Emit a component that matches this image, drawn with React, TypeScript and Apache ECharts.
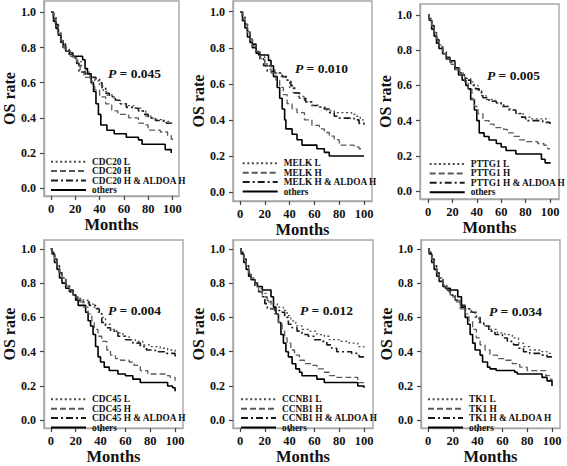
import React, { useEffect, useRef } from "react";
import * as echarts from "echarts";

const FONT = "'Liberation Serif', 'Times New Roman', serif";

const genes = ["CDC20", "MELK", "PTTG1", "CDC45", "CCNB1", "TK1"];
const pValues = ["0.045", "0.010", "0.005", "0.004", "0.012", "0.034"];
const X_TICKS = [0, 20, 40, 60, 80, 100];
const Y_TICKS = [0, 0.2, 0.4, 0.6, 0.8, 1.0];

// [month, OS rate]
const cdc20L = [[0,1],[2,0.97],[3,0.94],[5,0.9],[6,0.87],[8,0.84],[10,0.81],[12,0.78],[15,0.76],[18,0.74],[21,0.72],[25,0.69],[28,0.66],[32,0.63],[36,0.61],[40,0.58],[43,0.55],[46,0.53],[52,0.5],[57,0.48],[62,0.47],[68,0.455],[74,0.44],[78,0.41],[84,0.39],[92,0.38],[97,0.37],[100,0.36]];
const cdc20H = [[0,1],[2,0.96],[4,0.92],[6,0.88],[8,0.84],[10,0.8],[13,0.78],[16,0.75],[19,0.73],[22,0.7],[24,0.66],[27,0.63],[32,0.61],[34,0.58],[36,0.56],[40,0.52],[45,0.48],[50,0.44],[55,0.42],[64,0.4],[72,0.37],[76,0.36],[80,0.33],[90,0.32],[96,0.3],[99,0.28],[100,0.27]];
const cdc20HA = [[0,1],[2,0.97],[4,0.93],[6,0.89],[8,0.85],[10,0.82],[12,0.79],[15,0.77],[18,0.74],[21,0.71],[23,0.66],[28,0.65],[33,0.63],[37,0.62],[40,0.6],[42,0.57],[45,0.54],[48,0.52],[53,0.5],[57,0.48],[62,0.46],[68,0.455],[72,0.44],[76,0.42],[80,0.4],[86,0.385],[95,0.37],[99,0.36],[100,0.355]];
const cdc20O = [[0,1],[2,0.95],[4,0.91],[6,0.87],[8,0.83],[10,0.8],[12,0.78],[15,0.76],[18,0.75],[26,0.73],[28,0.68],[30,0.65],[33,0.6],[35,0.55],[37,0.48],[39,0.42],[41,0.36],[46,0.33],[52,0.31],[62,0.29],[72,0.275],[75,0.25],[94,0.22],[99,0.2]];

const melkL = [[0,1],[2,0.96],[4,0.92],[6,0.88],[8,0.84],[10,0.81],[13,0.78],[16,0.75],[20,0.71],[24,0.68],[28,0.66],[33,0.64],[37,0.62],[40,0.58],[43,0.55],[47,0.53],[52,0.5],[58,0.48],[64,0.47],[70,0.45],[76,0.44],[90,0.43],[94,0.42],[97,0.4],[100,0.38]];
const melkH = [[0,1],[2,0.96],[4,0.93],[6,0.89],[8,0.85],[10,0.81],[13,0.78],[16,0.74],[20,0.7],[25,0.66],[29,0.62],[32,0.58],[35,0.54],[38,0.49],[42,0.46],[46,0.44],[52,0.4],[58,0.37],[64,0.35],[68,0.33],[72,0.31],[76,0.29],[80,0.26],[92,0.25],[96,0.24],[100,0.24]];
const melkHA = [[0,1],[2,0.97],[4,0.93],[6,0.89],[8,0.85],[10,0.82],[13,0.78],[16,0.74],[19,0.7],[22,0.67],[28,0.66],[34,0.64],[38,0.62],[41,0.59],[44,0.55],[48,0.52],[53,0.5],[58,0.48],[64,0.47],[68,0.46],[72,0.44],[76,0.42],[80,0.41],[92,0.4],[96,0.38],[100,0.36]];
const melkO = [[0,1],[2,0.95],[4,0.91],[6,0.86],[8,0.83],[10,0.8],[13,0.77],[15,0.76],[23,0.73],[25,0.7],[27,0.64],[30,0.58],[32,0.52],[34,0.46],[36,0.4],[37,0.35],[42,0.32],[46,0.29],[50,0.26],[62,0.24],[68,0.22],[72,0.2],[100,0.2]];

const pttg1L = [[0,1],[1,0.98],[3,0.94],[5,0.9],[7,0.86],[9,0.83],[12,0.79],[15,0.76],[18,0.73],[22,0.7],[26,0.67],[30,0.64],[35,0.62],[38,0.6],[41,0.57],[44,0.54],[48,0.52],[55,0.5],[60,0.48],[66,0.46],[72,0.44],[78,0.42],[85,0.41],[100,0.41]];
const pttg1H = [[0,1],[1,0.97],[3,0.93],[5,0.89],[7,0.85],[9,0.82],[12,0.78],[15,0.75],[18,0.72],[22,0.69],[26,0.66],[30,0.62],[33,0.58],[36,0.52],[38,0.48],[41,0.44],[45,0.4],[50,0.38],[54,0.36],[62,0.35],[65,0.33],[70,0.31],[75,0.29],[80,0.28],[90,0.27],[95,0.26],[98,0.24],[100,0.24]];
const pttg1HA = [[0,1],[1,0.98],[3,0.94],[5,0.9],[7,0.86],[9,0.82],[12,0.79],[15,0.76],[18,0.73],[22,0.69],[27,0.66],[31,0.63],[35,0.6],[39,0.58],[42,0.56],[45,0.53],[50,0.51],[56,0.5],[62,0.48],[67,0.46],[72,0.44],[76,0.42],[80,0.4],[94,0.39],[100,0.38]];
const pttg1O = [[0,1],[1,0.97],[3,0.92],[5,0.88],[7,0.84],[9,0.81],[12,0.78],[15,0.75],[18,0.74],[22,0.7],[25,0.66],[28,0.63],[31,0.6],[33,0.58],[35,0.52],[38,0.46],[40,0.4],[42,0.33],[46,0.31],[50,0.29],[56,0.27],[60,0.25],[64,0.23],[72,0.21],[93,0.18],[96,0.16],[100,0.155]];

const cdc45L = [[0,1],[1,0.98],[3,0.94],[5,0.9],[7,0.86],[9,0.83],[12,0.79],[15,0.76],[18,0.73],[21,0.71],[26,0.7],[30,0.68],[34,0.66],[38,0.63],[41,0.6],[44,0.56],[48,0.53],[53,0.51],[58,0.49],[63,0.47],[68,0.46],[74,0.44],[80,0.43],[88,0.42],[94,0.41],[100,0.4]];
const cdc45H = [[0,1],[1,0.97],[3,0.93],[5,0.89],[7,0.85],[9,0.82],[12,0.78],[15,0.75],[18,0.72],[22,0.69],[26,0.66],[30,0.62],[33,0.58],[35,0.53],[38,0.49],[41,0.46],[45,0.41],[48,0.38],[52,0.36],[56,0.35],[63,0.34],[67,0.32],[72,0.29],[78,0.27],[92,0.26],[96,0.25],[100,0.23]];
const cdc45HA = [[0,1],[1,0.98],[3,0.94],[5,0.9],[7,0.86],[9,0.83],[12,0.79],[15,0.76],[18,0.73],[21,0.7],[26,0.69],[31,0.67],[36,0.65],[39,0.62],[41,0.57],[44,0.54],[48,0.52],[54,0.49],[60,0.47],[66,0.45],[72,0.43],[77,0.41],[84,0.4],[93,0.39],[100,0.37]];
const cdc45O = [[0,1],[1,0.97],[3,0.92],[5,0.88],[7,0.83],[9,0.8],[12,0.77],[15,0.75],[18,0.73],[20,0.7],[22,0.67],[28,0.63],[30,0.58],[32,0.55],[34,0.5],[36,0.43],[38,0.37],[40,0.34],[43,0.31],[47,0.29],[54,0.27],[60,0.26],[66,0.24],[72,0.22],[94,0.2],[98,0.19],[100,0.17]];

const ccnb1L = [[0,1],[1,0.98],[3,0.94],[5,0.9],[7,0.86],[9,0.83],[12,0.8],[15,0.77],[18,0.74],[21,0.7],[25,0.68],[30,0.66],[35,0.64],[38,0.61],[41,0.58],[45,0.55],[50,0.53],[56,0.52],[62,0.5],[68,0.49],[72,0.47],[80,0.46],[88,0.45],[95,0.43],[100,0.41]];
const ccnb1H = [[0,1],[1,0.97],[3,0.93],[5,0.89],[7,0.85],[9,0.82],[12,0.78],[15,0.75],[18,0.72],[22,0.69],[25,0.65],[28,0.62],[31,0.57],[34,0.52],[36,0.48],[38,0.45],[41,0.41],[44,0.38],[48,0.35],[52,0.33],[58,0.32],[62,0.3],[68,0.28],[72,0.26],[78,0.25],[92,0.25],[95,0.22],[100,0.22]];
const ccnb1HA = [[0,1],[1,0.98],[3,0.94],[5,0.9],[7,0.85],[9,0.82],[12,0.78],[15,0.75],[18,0.72],[20,0.68],[22,0.65],[28,0.64],[33,0.63],[36,0.6],[39,0.56],[42,0.54],[46,0.52],[50,0.5],[55,0.49],[60,0.47],[65,0.46],[70,0.44],[74,0.42],[78,0.4],[90,0.39],[96,0.37],[100,0.36]];
const ccnb1O = [[0,1],[1,0.97],[3,0.92],[5,0.88],[7,0.84],[9,0.82],[12,0.8],[14,0.78],[18,0.76],[25,0.72],[27,0.66],[29,0.62],[31,0.57],[33,0.5],[35,0.45],[37,0.4],[39,0.37],[42,0.33],[45,0.3],[48,0.28],[50,0.26],[62,0.24],[68,0.22],[95,0.2],[100,0.19]];

const tk1L = [[0,1],[1,0.98],[3,0.94],[5,0.9],[7,0.86],[9,0.83],[12,0.79],[15,0.76],[18,0.73],[22,0.7],[26,0.67],[30,0.65],[34,0.63],[38,0.6],[41,0.57],[45,0.55],[50,0.53],[56,0.51],[62,0.5],[68,0.48],[73,0.45],[77,0.43],[82,0.41],[90,0.4],[96,0.39],[100,0.38]];
const tk1H = [[0,1],[1,0.97],[3,0.93],[5,0.89],[7,0.85],[9,0.82],[12,0.78],[15,0.75],[18,0.72],[22,0.69],[26,0.65],[30,0.62],[33,0.58],[36,0.53],[39,0.48],[42,0.44],[46,0.41],[50,0.38],[56,0.36],[62,0.35],[68,0.33],[74,0.31],[80,0.29],[92,0.29],[95,0.26],[98,0.24],[100,0.23]];
const tk1HA = [[0,1],[1,0.98],[3,0.94],[5,0.9],[7,0.86],[9,0.83],[12,0.79],[15,0.76],[18,0.73],[22,0.7],[26,0.67],[30,0.65],[35,0.63],[39,0.6],[42,0.57],[45,0.55],[49,0.52],[54,0.5],[60,0.48],[64,0.46],[69,0.44],[73,0.42],[77,0.4],[82,0.39],[90,0.38],[96,0.37],[100,0.36]];
const tk1O = [[0,1],[1,0.97],[3,0.92],[5,0.88],[7,0.84],[9,0.81],[12,0.78],[14,0.77],[18,0.76],[24,0.72],[27,0.66],[30,0.6],[32,0.56],[34,0.5],[36,0.45],[38,0.41],[42,0.38],[44,0.34],[48,0.31],[50,0.3],[55,0.29],[70,0.28],[72,0.27],[92,0.25],[96,0.23],[100,0.2]];

const panelCurves = [
  [cdc20L, cdc20H, cdc20HA, cdc20O],
  [melkL, melkH, melkHA, melkO],
  [pttg1L, pttg1H, pttg1HA, pttg1O],
  [cdc45L, cdc45H, cdc45HA, cdc45O],
  [ccnb1L, ccnb1H, ccnb1HA, ccnb1O],
  [tk1L, tk1H, tk1HA, tk1O],
];

// layout (pixels)
const LAYOUT = [
  { boxL: 41, boxR: 179, boxT: 1, boxB: 196, x0: 48.3, x100: 172.3, y1: 12.3, y0: 188.3, gapX: 18, gapY: 24, lgX: 50, lgY: 161.7, pX: 108, pY: 73 },
  { boxL: 233, boxR: 372, boxT: 1, boxB: 201, x0: 240, x100: 364, y1: 11.7, y0: 192, gapX: 20, gapY: 24, lgX: 241.7, lgY: 163.3, pX: 295, pY: 68.5 },
  { boxL: 420, boxR: 559, boxT: 4, boxB: 199, x0: 428, x100: 550, y1: 15, y0: 191, gapX: 16, gapY: 24, lgX: 428.7, lgY: 164, pX: 487, pY: 75 },
  { boxL: 42, boxR: 183, boxT: 240, boxB: 433, x0: 49, x100: 175, y1: 249, y0: 425, gapX: 19, gapY: 26, lgX: 50, lgY: 399.3, pX: 108, pY: 310 },
  { boxL: 233, boxR: 373, boxT: 240, boxB: 433, x0: 240, x100: 364, y1: 249, y0: 425, gapX: 19, gapY: 26, lgX: 240, lgY: 399.3, pX: 300, pY: 310 },
  { boxL: 421, boxR: 560, boxT: 240, boxB: 433, x0: 428, x100: 552, y1: 249, y0: 425, gapX: 19, gapY: 27, lgX: 427, lgY: 399.3, pX: 489, pY: 311.5 },
];

const LINE_STYLES = [
  { color: "#4a4a4a", width: 1.3, type: [2, 2.6] },
  { color: "#5a5a5a", width: 1.3, type: [6, 3] },
  { color: "#1a1a1a", width: 1.6, type: [7, 3, 2, 3] },
  { color: "#000000", width: 1.6, type: "solid" },
];

const labelsFor = (g: string) => [`${g} L`, `${g} H`, `${g} H & ALDOA H`, "others"];

export default function App() {
  const ref = useRef<HTMLDivElement>(null);
  useEffect(() => {
    if (!ref.current) return;
    const chart = echarts.init(ref.current, null, { renderer: "svg" });
    const boldText = { fontFamily: FONT, fontWeight: "bold" as const, color: "#111" };

    const grid = LAYOUT.map((l) => ({
      left: l.boxL,
      top: l.boxT,
      width: l.boxR - l.boxL,
      height: l.boxB - l.boxT,
      show: true,
      borderColor: "#a6a6a6",
      borderWidth: 1.4,
      containLabel: false,
    }));

    const xAxis = LAYOUT.map((l, i) => {
      const ppx = (l.x100 - l.x0) / 100;
      return {
        type: "value",
        gridIndex: i,
        min: (l.boxL - l.x0) / ppx,
        max: (l.boxR - l.x0) / ppx,
        axisLine: { show: true, onZero: false, lineStyle: { color: "#a6a6a6", width: 1.4 } },
        axisTick: { show: true, length: 4, customValues: X_TICKS, lineStyle: { color: "#444", width: 1.2 } },
        axisLabel: { customValues: X_TICKS, margin: 6, fontSize: 12.5, ...boldText },
        splitLine: { show: false },
        name: "Months",
        nameLocation: "middle",
        nameGap: l.gapX,
        nameTextStyle: { fontSize: 16.5, ...boldText },
      };
    });

    const yAxis = LAYOUT.map((l, i) => {
      const ppy = l.y0 - l.y1;
      return {
        type: "value",
        gridIndex: i,
        min: -(l.boxB - l.y0) / ppy,
        max: 1 + (l.y1 - l.boxT) / ppy,
        axisLine: { show: true, onZero: false, lineStyle: { color: "#a6a6a6", width: 1.4 } },
        axisTick: { show: true, length: 4, customValues: Y_TICKS, lineStyle: { color: "#444", width: 1.2 } },
        axisLabel: {
          customValues: Y_TICKS,
          margin: 8,
          fontSize: 12,
          formatter: (v: number) => v.toFixed(1),
          ...boldText,
        },
        splitLine: { show: false },
        name: "OS rate",
        nameLocation: "middle",
        nameGap: l.gapY,
        nameTextStyle: { fontSize: 16, ...boldText },
      };
    });

    const series: any[] = [];
    panelCurves.forEach((curves, i) => {
      const names = labelsFor(genes[i]);
      curves.forEach((data, k) => {
        series.push({
          type: "line",
          name: names[k],
          xAxisIndex: i,
          yAxisIndex: i,
          step: "end",
          symbol: "none",
          showSymbol: false,
          data,
          lineStyle: LINE_STYLES[k],
          itemStyle: { color: LINE_STYLES[k].color },
          z: 10 - k,
        });
      });
    });

    const legend = LAYOUT.map((l, i) => ({
      data: labelsFor(genes[i]),
      orient: "vertical",
      left: l.lgX,
      top: l.lgY - 4.5,
      padding: 0,
      itemWidth: 35,
      itemHeight: 9,
      itemGap: 0.4,
      selectedMode: false,
      itemStyle: { opacity: 0 },
      textStyle: { fontSize: 9.3, lineHeight: 9, padding: [0, 0, 0, 1], ...boldText },
    }));

    const graphic = LAYOUT.map((l, i) => ({
      type: "text",
      x: l.pX,
      y: l.pY,
      style: {
        text: `{i|P}{n| = ${pValues[i]}}`,
        verticalAlign: "middle",
        rich: {
          i: { fontFamily: FONT, fontWeight: "bold", fontStyle: "italic", fontSize: 13.5, fill: "#111" },
          n: { fontFamily: FONT, fontWeight: "bold", fontSize: 13.5, fill: "#111" },
        },
      },
    }));

    chart.setOption({
      animation: false,
      backgroundColor: "#ffffff",
      grid,
      xAxis,
      yAxis,
      series,
      legend,
      graphic,
    });
    return () => chart.dispose();
  }, []);

  return (
    <div
      ref={ref}
      style={{ position: "fixed", left: 0, top: 0, width: 567, height: 466, background: "#fff" }}
    />
  );
}
